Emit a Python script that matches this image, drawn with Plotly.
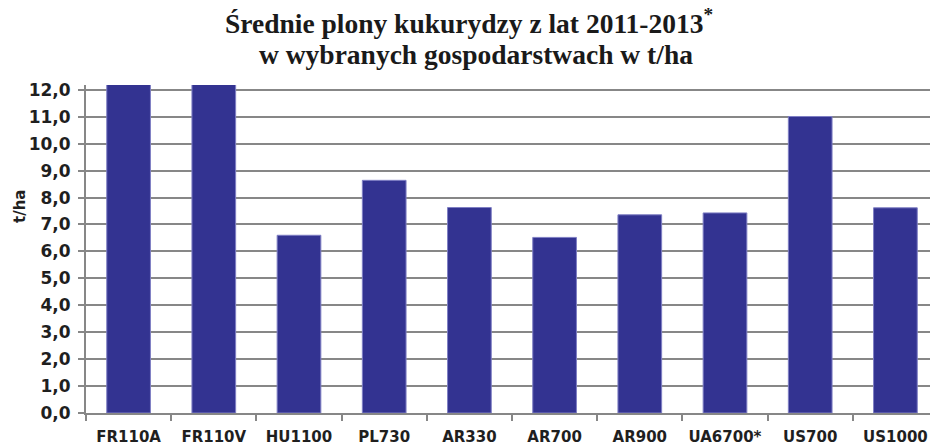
import plotly.graph_objects as go

categories = ["FR110A", "FR110V", "HU1100", "PL730", "AR330", "AR700", "AR900", "UA6700*", "US700", "US1000"]
yields = [12.5, 12.5, 6.6, 8.64, 7.63, 6.52, 7.36, 7.43, 11.01, 7.62]
y_ticks = [0, 1, 2, 3, 4, 5, 6, 7, 8, 9, 10, 11, 12]

title_line1 = "Średnie plony kukurydzy z lat 2011-2013<sup>*</sup>"
title_line2 = "w wybranych gospodarstwach w t/ha"
y_title = "t/ha"

W, H = 930, 446
ML, MR, MT, MB = 86, 0, 85, 33
PW, PH = W - ML - MR, H - MT - MB

def px_x(p):
    return (p - ML) / PW

def px_y(p):
    return (H - MB - p) / PH

GRID = "#878787"
TXT = "#1f1f1f"

fig = go.Figure(go.Bar(
    x=categories, y=yields,
    marker=dict(color="#333391", line=dict(color="#7f7fc4", width=1)),
))

fig.update_layout(
    width=W, height=H,
    margin=dict(l=ML, r=MR, t=MT, b=MB, pad=0),
    paper_bgcolor="white", plot_bgcolor="white",
    separators=", ",
    bargap=0.487,
    showlegend=False,
    font=dict(family="DejaVu Sans", color=TXT),
    annotations=[
        dict(text="<b>" + title_line1 + "</b>", x=px_x(469), y=px_y(22), xref="paper", yref="paper",
             xanchor="center", yanchor="middle", showarrow=False,
             font=dict(family="Liberation Serif", size=27.5, color="#1a1a1a")),
        dict(text="<b>" + title_line2 + "</b>", x=px_x(476), y=px_y(54), xref="paper", yref="paper",
             xanchor="center", yanchor="middle", showarrow=False,
             font=dict(family="Liberation Serif", size=27.5, color="#1a1a1a")),
        dict(text="<b>" + y_title + "</b>", x=px_x(20), y=px_y(207), xref="paper", yref="paper",
             xanchor="center", yanchor="middle", textangle=-90, showarrow=False,
             font=dict(family="DejaVu Sans", size=15, color=TXT)),
    ],
)

fig.update_xaxes(
    type="category",
    range=[-0.5, -0.5 + PW / 85.2],
    tickson="boundaries",
    ticks="outside", ticklen=6, tickwidth=2, tickcolor=GRID,
    showline=True, linecolor=GRID, linewidth=2,
    showgrid=False,
    tickfont=dict(family="DejaVu Sans", size=15, color=TXT, weight="bold"),
    ticklabelstandoff=9,
)

fig.update_yaxes(
    range=[0, 12.18],
    tickvals=y_ticks,
    tickformat=".1f",
    ticks="outside", ticklen=6, tickwidth=2, tickcolor=GRID,
    showline=True, linecolor=GRID, linewidth=2,
    showgrid=True, gridcolor=GRID, gridwidth=2,
    zeroline=False,
    tickfont=dict(family="DejaVu Sans", size=17, color=TXT, weight="bold"),
    ticklabelstandoff=4,
)

fig.write_html(
    "out.html",
    config={"displayModeBar": False},
    post_script="document.body.style.margin='0';document.body.style.padding='0';",
)
